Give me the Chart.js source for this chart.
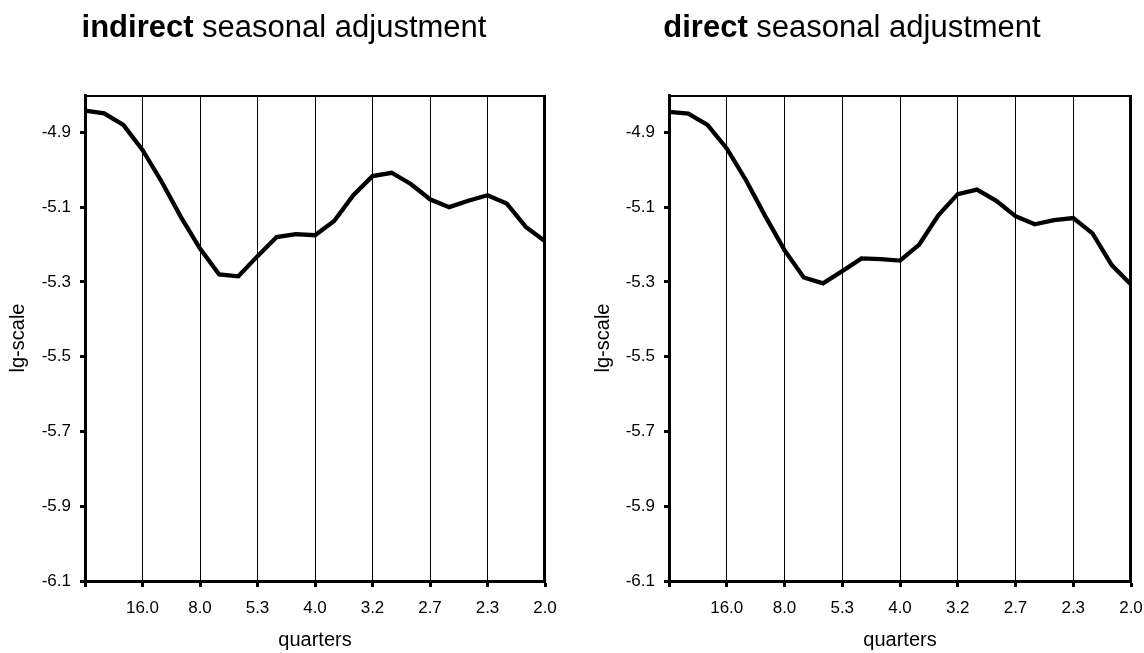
<!DOCTYPE html>
<html>
<head>
<meta charset="utf-8">
<script src="https://cdn.jsdelivr.net/npm/chart.js@4.4.1/dist/chart.umd.min.js"></script>
<style>
  html, body { margin:0; padding:0; background:#fff; }
  .row { display:flex; width:1144px; height:653px; }
  canvas { display:block; }
</style>
</head>
<body>
<div class="row">
  <canvas id="indChart" width="572" height="653"></canvas>
  <canvas id="dirChart" width="572" height="653"></canvas>
</div>
<script>
// periods (in quarters) shown under the x ticks
const xTickPos    = [0, 3, 6, 9, 12, 15, 18, 21, 24];
const xTickLabels = ['', '16.0', '8.0', '5.3', '4.0', '3.2', '2.7', '2.3', '2.0'];
const yTicks      = [-6.1, -5.9, -5.7, -5.5, -5.3, -5.1, -4.9];

// lg-scale spectrum
const indirectValues = [-4.842, -4.849, -4.880, -4.947, -5.032, -5.126, -5.211, -5.280, -5.285,
  -5.231, -5.180, -5.172, -5.175, -5.137, -5.068, -5.017, -5.008, -5.038, -5.079, -5.100,
  -5.083, -5.068, -5.090, -5.153, -5.191];
const directValues = [-4.845, -4.850, -4.880, -4.943, -5.028, -5.124, -5.215, -5.288, -5.304,
  -5.271, -5.237, -5.239, -5.243, -5.200, -5.121, -5.065, -5.053, -5.083, -5.124, -5.146,
  -5.135, -5.129, -5.170, -5.255, -5.307];

const FONT = '"Liberation Sans", Arial, Helvetica, sans-serif';

// title with a bold first word
const mixedTitle = {
  id: 'mixedTitle',
  afterDraw(chart, args, o) {
    const ctx = chart.ctx;
    ctx.save();
    ctx.fillStyle = '#000';
    ctx.textBaseline = 'alphabetic';
    ctx.font = `700 31px ${FONT}`;
    const w1 = ctx.measureText(o.bold).width;
    ctx.font = `400 31px ${FONT}`;
    const w2 = ctx.measureText(o.rest).width;
    const x = o.centerX - (w1 + w2) / 2;
    ctx.font = `700 31px ${FONT}`;
    ctx.fillText(o.bold, x, 37);
    ctx.font = `400 31px ${FONT}`;
    ctx.fillText(o.rest, x + w1, 37);
    ctx.restore();
  }
};

// top + right frame of the plot area
const frame = {
  id: 'frame',
  afterDraw(chart) {
    const { ctx, chartArea: a } = chart;
    ctx.save();
    ctx.strokeStyle = '#000';
    ctx.lineWidth = 2;
    ctx.beginPath(); ctx.moveTo(a.left, a.top + 1); ctx.lineTo(a.right, a.top + 1); ctx.stroke();
    ctx.lineWidth = 3;
    ctx.beginPath(); ctx.moveTo(a.right - 0.5, a.top); ctx.lineTo(a.right - 0.5, a.bottom); ctx.stroke();
    ctx.restore();
  }
};

function build(id, values, cfg) {
  const ctx = document.getElementById(id).getContext('2d');
  return new Chart(ctx, {
    type: 'line',
    data: {
      datasets: [{
        data: values.map((v, i) => ({ x: i, y: v })),
        borderColor: '#000', borderWidth: 4.3, pointRadius: 0, tension: 0, fill: false,
      }],
    },
    options: {
      responsive: false, animation: false, devicePixelRatio: 1,
      layout: { padding: { top: 95, right: cfg.padRight, bottom: 0, left: 0 } },
      plugins: {
        legend: { display: false }, tooltip: { enabled: false },
        mixedTitle: { bold: cfg.bold, rest: cfg.rest, centerX: cfg.titleX },
      },
      scales: {
        x: {
          type: 'linear', min: 0, max: 24,
          afterBuildTicks: s => { s.ticks = xTickPos.map(v => ({ value: v })); },
          afterFit: s => { s.height = 72; s.paddingLeft = 0; s.paddingRight = 0; },
          ticks: { color: '#000', font: { family: FONT, size: 17 }, padding: 11, maxRotation: 0,
                   callback: (v, i) => xTickLabels[i] },
          grid: { color: '#000', lineWidth: 1, tickColor: '#000', tickWidth: 3, tickLength: 6 },
          border: { display: true, color: '#000', width: 3 },
          title: { display: true, text: 'quarters', color: '#000', font: { family: FONT, size: 20 },
                   padding: { top: 0, bottom: 1 } },
        },
        y: {
          min: -6.1, max: -4.8,
          afterBuildTicks: s => { s.ticks = yTicks.map(v => ({ value: v })); },
          afterFit: s => { s.width = cfg.yWidth; s.paddingTop = 0; s.paddingBottom = 0; },
          ticks: { color: '#000', font: { family: FONT, size: 17 }, padding: 9,
                   callback: v => v.toFixed(1) },
          grid: { drawOnChartArea: false, tickColor: '#000', tickWidth: 3, tickLength: 5 },
          border: { display: true, color: '#000', width: 3 },
          title: { display: true, text: 'lg-scale', color: '#000', font: { family: FONT, size: 20 },
                   padding: { top: cfg.yTitlePad, bottom: 0 } },
        },
      },
    },
    plugins: [mixedTitle, frame],
  });
}

build('indChart', indirectValues, { bold: 'indirect ', rest: 'seasonal adjustment', titleX: 284,
  padRight: 27, yWidth: 85, yTitlePad: 6 });
build('dirChart', directValues, { bold: 'direct ', rest: 'seasonal adjustment', titleX: 280,
  padRight: 13, yWidth: 97, yTitlePad: 19 });
</script>
</body>
</html>
